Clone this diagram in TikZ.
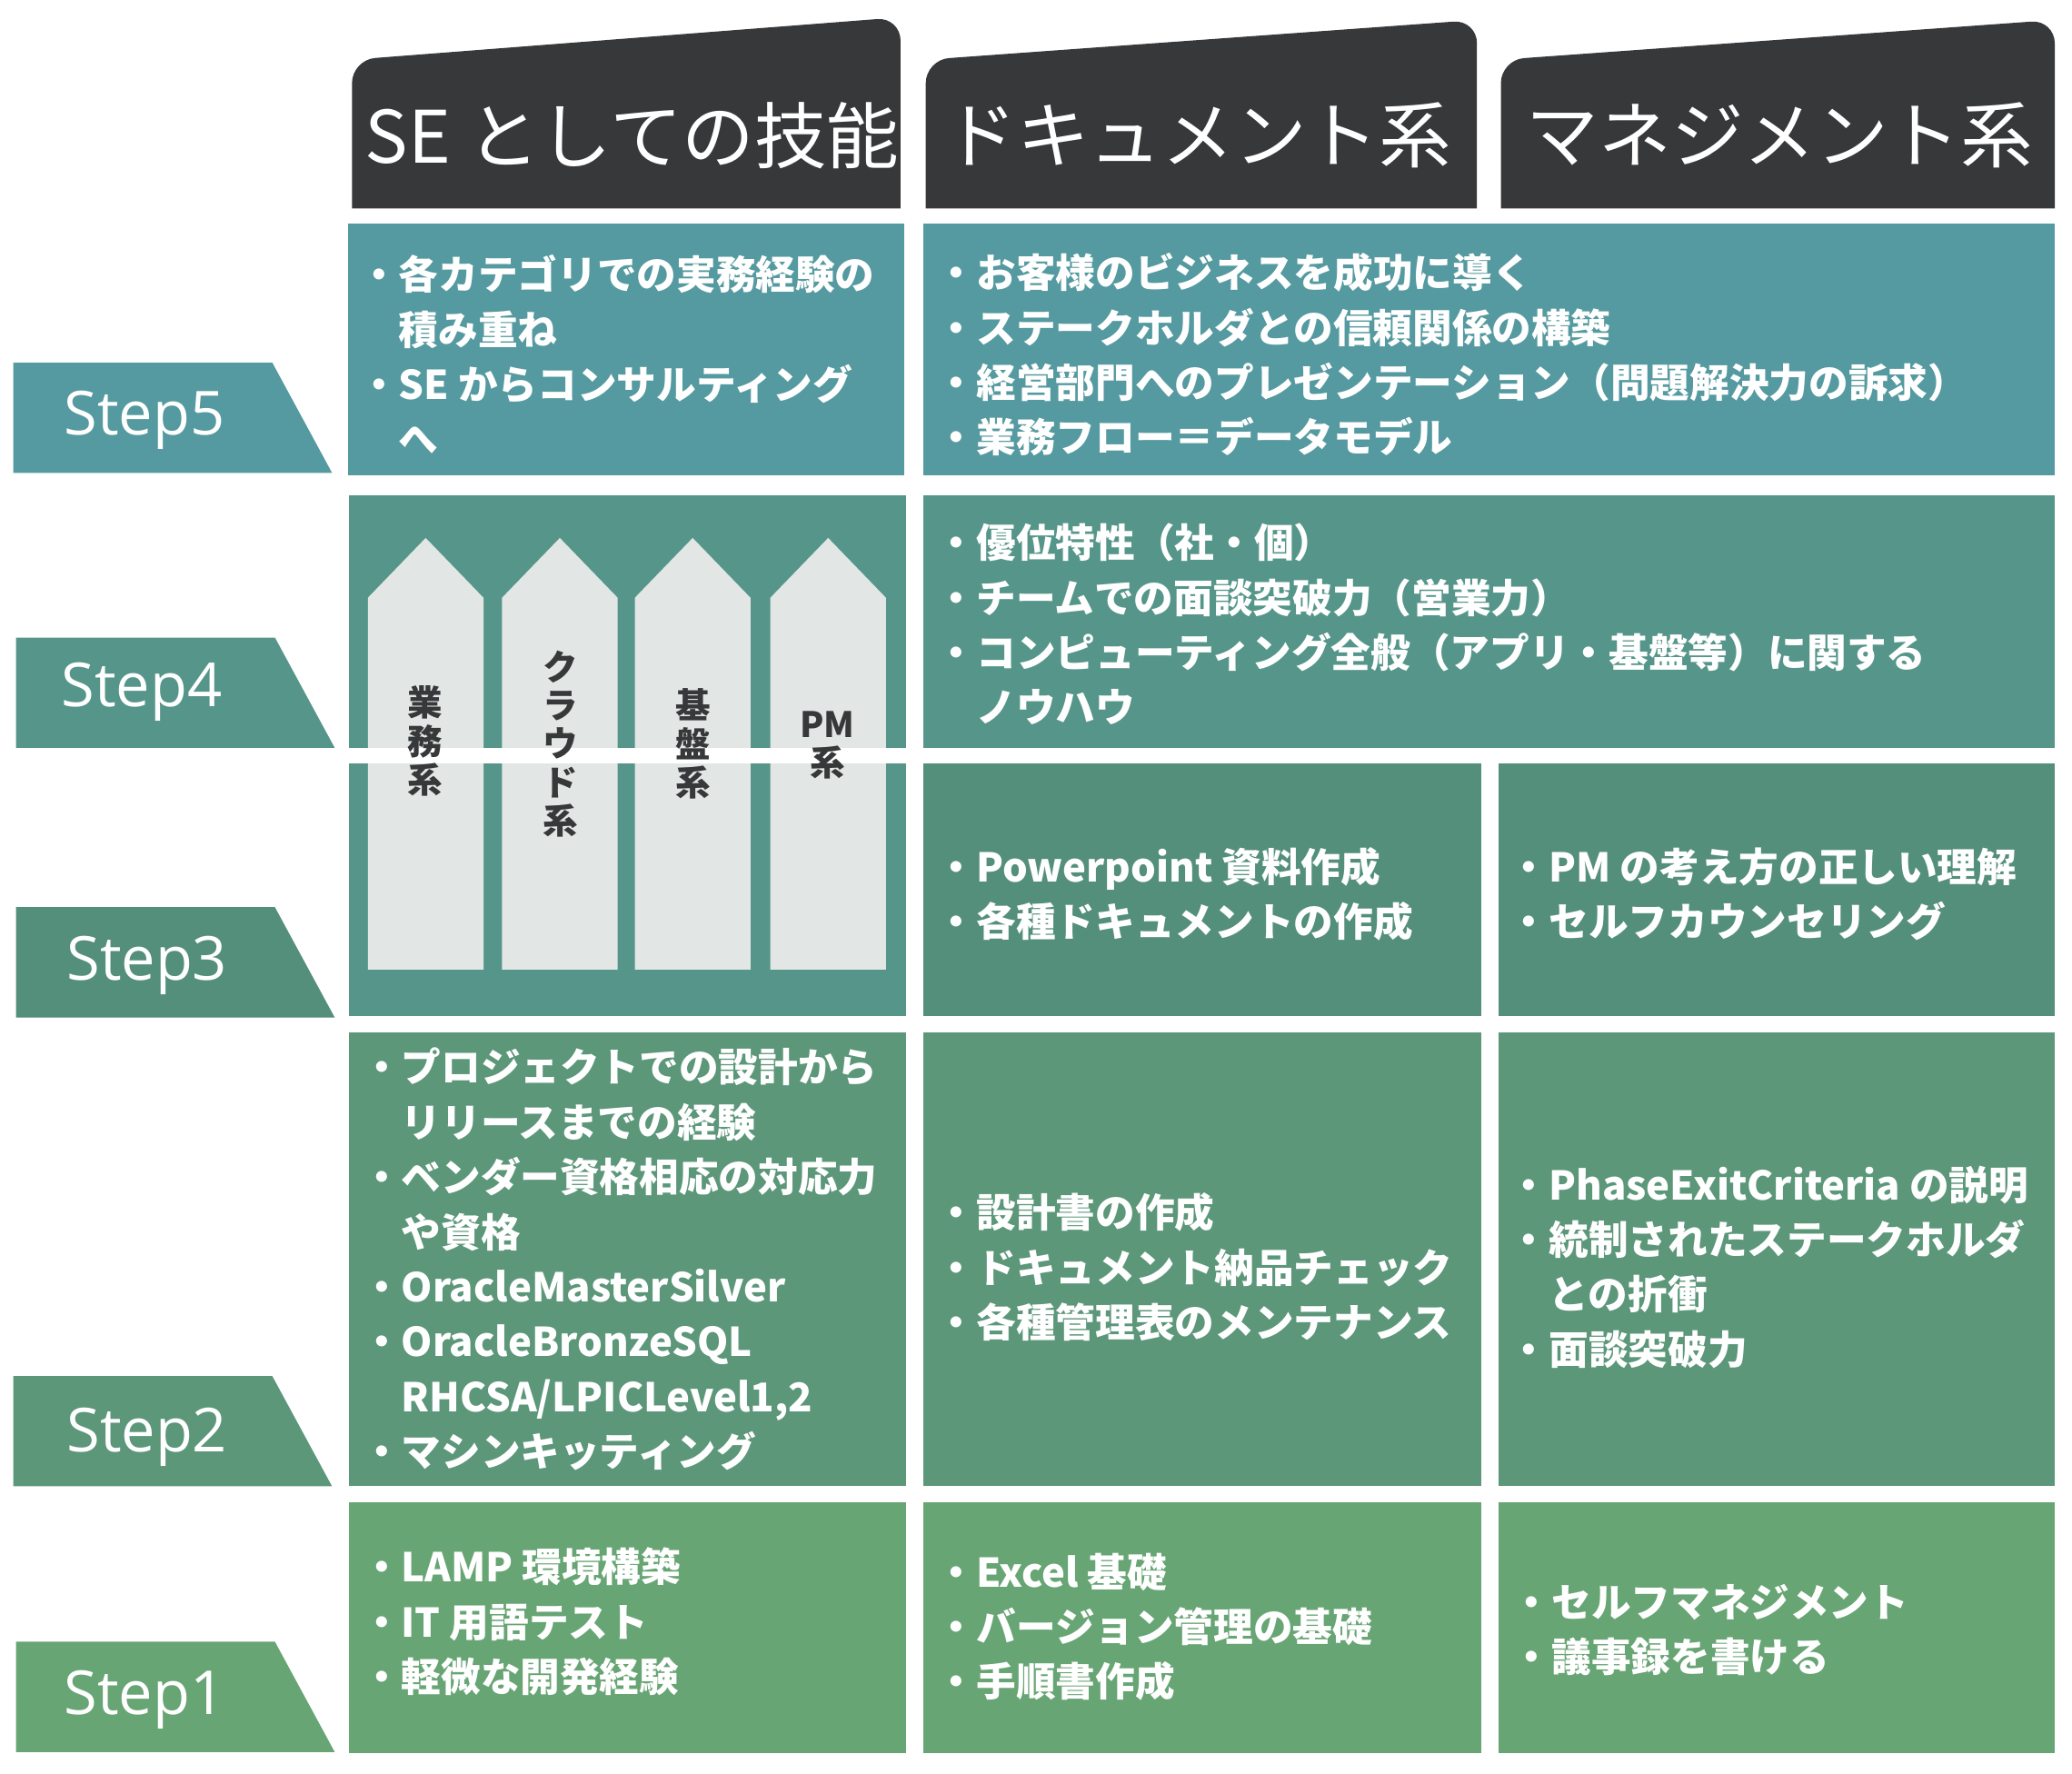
\documentclass[tikz,border=0pt]{standalone}
\usepackage{fontspec}
\setmainfont{Noto Sans CJK JP}
\newfontfamily\stepfont{Open Sans}
\definecolor{hdark}{HTML}{37383A}
\definecolor{rowfive}{HTML}{559AA0}
\definecolor{rowfour}{HTML}{56968A}
\definecolor{rowthree}{HTML}{548F7C}
\definecolor{rowtwo}{HTML}{5C977A}
\definecolor{rowone}{HTML}{68A574}
\definecolor{arrowgray}{HTML}{E2E6E4}
\tikzset{
	bodytext/.style={text=white, anchor=west, align=left, inner sep=0pt,
		font=\bfseries\fontsize{17}{23.5}\selectfont},
	headtext/.style={text=white, font=\fontsize{31}{36}\selectfont},
	steptext/.style={text=white, anchor=west, font=\stepfont\fontsize{26}{30}\selectfont},
	vlabel/.style={text=hdark, align=center, inner sep=0pt,
		font=\bfseries\fontsize{15}{16.5}\selectfont}
}
\newcommand{\bul}{・}
\newcommand{\ind}{\phantom{・}}
\begin{document}
\begin{tikzpicture}[x=0.02cm, y=-0.02cm]
		\useasboundingbox (0, 0) rectangle (1560, 1335);

		% headers
		\fill[hdark, rounded corners=10] (265, 157) -- (265, 45) -- (678, 13) -- (678, 157);
		\fill[hdark, rounded corners=10] (697, 157) -- (697, 45) -- (1112, 15) -- (1112, 157);
		\fill[hdark, rounded corners=10] (1130, 157) -- (1130, 45) -- (1547, 15) -- (1547, 157);
		\node[headtext] (hse) at (476, 102) {SE としての技能};
		\node[headtext] (hdoc) at (902, 102) {ドキュメント系};
		\node[headtext] (hmgt) at (1340, 102) {マネジメント系};

		% cells
		\fill[rowfive] (262, 168) rectangle (681, 358);
		\fill[rowfive] (695, 168) rectangle (1547, 358);
		\fill[rowfour] (263, 373) rectangle (682, 765);
		\fill[rowfour] (695, 373) rectangle (1547, 563);
		\fill[rowthree] (695, 575) rectangle (1115, 765);
		\fill[rowthree] (1128, 575) rectangle (1547, 765);
		\fill[rowtwo] (263, 777) rectangle (682, 1119);
		\fill[rowtwo] (695, 777) rectangle (1115, 1119);
		\fill[rowtwo] (1128, 777) rectangle (1547, 1119);
		\fill[rowone] (263, 1131) rectangle (682, 1320);
		\fill[rowone] (695, 1131) rectangle (1115, 1320);
		\fill[rowone] (1128, 1131) rectangle (1547, 1320);

		% step tabs
		\fill[rowfive] (10, 273) -- (205, 273) -- (250, 356) -- (10, 356) -- cycle;
		\fill[rowfour] (12, 480) -- (207, 480) -- (252, 563) -- (12, 563) -- cycle;
		\fill[rowthree] (12, 683) -- (207, 683) -- (252, 766) -- (12, 766) -- cycle;
		\fill[rowtwo] (10, 1036) -- (205, 1036) -- (250, 1119) -- (10, 1119) -- cycle;
		\fill[rowone] (12, 1236) -- (207, 1236) -- (252, 1319) -- (12, 1319) -- cycle;
		\node[steptext] (s5) at (42, 316) {Step5};
		\node[steptext] (s4) at (40, 521) {Step4};
		\node[steptext] (s3) at (44, 727) {Step3};
		\node[steptext] (s2) at (44, 1082) {Step2};
		\node[steptext] (s1) at (42, 1280) {Step1};

		% arrows
		\foreach \ax in {277, 378, 478, 580}
			\fill[arrowgray] (\ax, 730) -- (\ax, 450) -- (\ax + 43.5, 405) -- (\ax + 87, 450) -- (\ax + 87, 730) -- cycle;
		\fill[white] (255, 563) rectangle (690, 575);
		\node[vlabel] (lgyomu) at (320, 558) {業\\務\\系};
		\node[vlabel] (lcloud) at (422, 560) {ク\\ラ\\ウ\\ド\\系};
		\node[vlabel] (lkiban) at (522, 560) {基\\盤\\系};
		\node[vlabel] (lpm) at (623, 561) {PM\\系};

		% texts
		\node[bodytext] (t51) at (270, 267) {\bul 各カテゴリでの実務経験の\\\ind 積み重ね\\\bul SE からコンサルティング\\\ind へ};
		\node[bodytext] (t52) at (705, 267) {\bul お客様のビジネスを成功に導く\\\bul ステークホルダとの信頼関係の構築\\\bul 経営部門へのプレゼンテーション（問題解決力の訴求）\\\bul 業務フロー＝データモデル};
		\node[bodytext] (t42) at (705, 470) {\bul 優位特性（社・個）\\\bul チームでの面談突破力（営業力）\\\bul コンピューティング全般（アプリ・基盤等）に関する\\\ind ノウハウ};
		\node[bodytext] (t32) at (705, 673) {\bul Powerpoint 資料作成\\\bul 各種ドキュメントの作成};
		\node[bodytext] (t33) at (1136, 673) {\bul PM の考え方の正しい理解\\\bul セルフカウンセリング};
		\node[bodytext] (t21) at (272, 948) {\bul プロジェクトでの設計から\\\ind リリースまでの経験\\\bul ベンダー資格相応の対応力\\\ind や資格\\\bul OracleMasterSilver\\\bul OracleBronzeSQL\\\ind RHCSA/LPICLevel1,2\\\bul マシンキッティング};
		\node[bodytext] (t22) at (705, 954) {\bul 設計書の作成\\\bul ドキュメント納品チェック\\\bul 各種管理表のメンテナンス};
		\node[bodytext] (t23) at (1136, 954) {\bul PhaseExitCriteria の説明\\\bul 統制されたステークホルダ\\\ind との折衝\\\bul 面談突破力};
		\node[bodytext] (t11) at (272, 1221) {\bul LAMP 環境構築\\\bul IT 用語テスト\\\bul 軽微な開発経験};
		\node[bodytext] (t12) at (705, 1225) {\bul Excel 基礎\\\bul バージョン管理の基礎\\\bul 手順書作成};
		\node[bodytext] (t13) at (1138, 1227) {\bul セルフマネジメント\\\bul 議事録を書ける};
	\end{tikzpicture}
\end{document}
